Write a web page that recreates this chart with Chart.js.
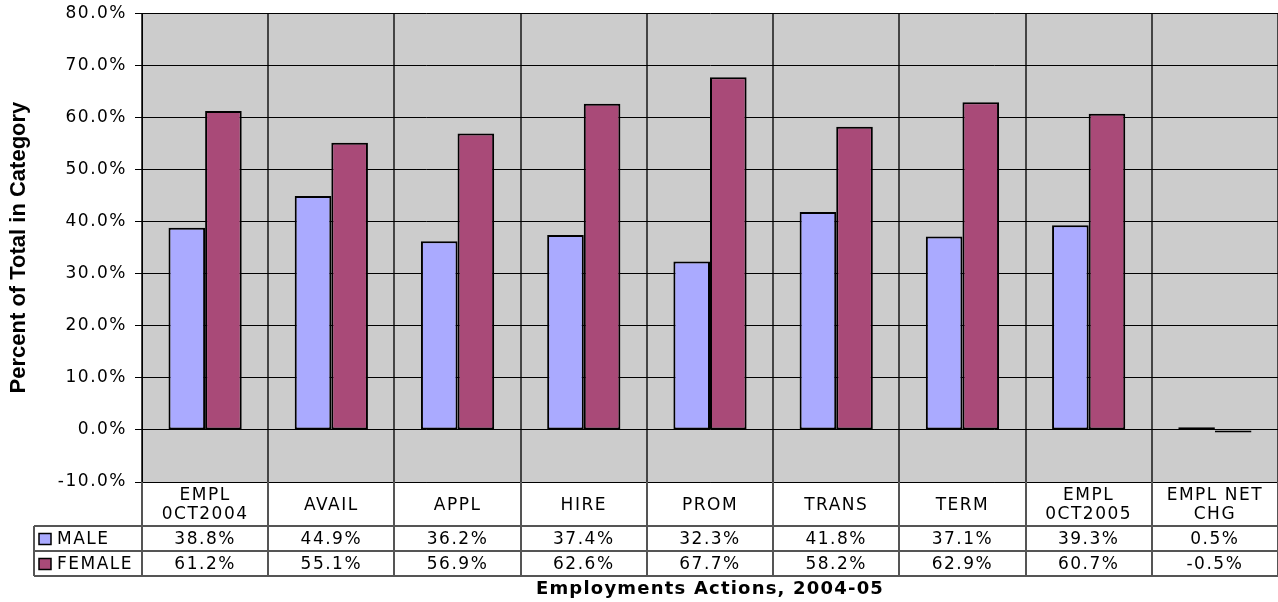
<!doctype html>
<html>
<head>
<meta charset="utf-8">
<title>Employments Actions, 2004-05</title>
<style>
  html, body { margin: 0; padding: 0; background: #fff; }
  canvas { display: block; }
</style>
</head>
<body>
<canvas id="myChart" width="1278" height="602"></canvas>
<script src="https://cdn.jsdelivr.net/npm/chart.js"></script>
<script>
// data
const categories = [['EMPL', '0CT2004'], 'AVAIL', 'APPL', 'HIRE', 'PROM', 'TRANS', 'TERM', ['EMPL', '0CT2005'], ['EMPL NET', 'CHG']];
const maleValues = [38.8, 44.9, 36.2, 37.4, 32.3, 41.8, 37.1, 39.3, 0.5];
const femaleValues = [61.2, 55.1, 56.9, 62.6, 67.7, 58.2, 62.9, 60.7, -0.5];
const seriesNames = ['MALE', 'FEMALE'];
const yMin = -10, yMax = 80, yStep = 10;
const yTitle = 'Percent of Total in Category';
const xTitle = 'Employments Actions, 2004-05';

const MALE_COLOR = '#aaaaff';
const FEMALE_COLOR = '#a94a78';
const PLOT_BG = '#cccccc';
const TABLE_LINE = '#555';
const HEADER_H = 44;
const ROW_H = 25;
const LEGEND_LEFT = 34;
const SPACING = '1.5px';

const pct = v => v.toFixed(1) + '%';

Chart.defaults.font.family = 'DejaVu Sans';
Chart.defaults.font.size = 17;
Chart.defaults.color = '#000';

// grey plot background, data table under the x axis, axis titles
const tablePlugin = {
  id: 'dataTable',
  beforeDraw(chart) {
    const {ctx, chartArea: a} = chart;
    ctx.save();
    ctx.fillStyle = PLOT_BG;
    ctx.fillRect(a.left, a.top, a.right - a.left, a.bottom - a.top);
    ctx.restore();
    ctx.letterSpacing = SPACING;
  },
  afterDraw(chart) {
    const {ctx, chartArea: a} = chart;
    const x = chart.scales.x;
    const n = chart.data.labels.length;
    const half = (x.getPixelForValue(1) - x.getPixelForValue(0)) / 2;
    const rows = chart.data.datasets;
    const top = a.bottom + HEADER_H;
    const bottom = top + rows.length * ROW_H;

    ctx.save();
    ctx.strokeStyle = TABLE_LINE;
    ctx.lineWidth = 2;
    ctx.beginPath();
    for (let i = 0; i <= n; i++) {
      const px = Math.round(x.getPixelForValue(i) - half);
      ctx.moveTo(px, a.bottom);
      ctx.lineTo(px, bottom);
    }
    ctx.moveTo(LEGEND_LEFT, top);
    ctx.lineTo(LEGEND_LEFT, bottom);
    for (let r = 0; r <= rows.length; r++) {
      const py = top + r * ROW_H;
      ctx.moveTo(LEGEND_LEFT, py);
      ctx.lineTo(a.right, py);
    }
    ctx.stroke();

    ctx.font = '17px "DejaVu Sans"';
    ctx.letterSpacing = SPACING;
    ctx.fillStyle = '#000';
    ctx.textBaseline = 'middle';
    rows.forEach((ds, r) => {
      const cy = top + r * ROW_H + ROW_H / 2 + 1;
      ctx.textAlign = 'center';
      ds.data.forEach((v, i) => {
        ctx.fillText(pct(v), x.getPixelForValue(i), cy);
      });
      // legend key
      ctx.fillStyle = ds.backgroundColor;
      ctx.fillRect(LEGEND_LEFT + 5, cy - 6, 12, 11);
      ctx.strokeStyle = '#000';
      ctx.lineWidth = 1.5;
      ctx.strokeRect(LEGEND_LEFT + 5, cy - 6, 12, 11);
      ctx.fillStyle = '#000';
      ctx.textAlign = 'left';
      ctx.fillText(ds.label, LEGEND_LEFT + 23, cy);
    });

    // axis titles
    ctx.font = 'bold 18px "DejaVu Sans"';
    ctx.letterSpacing = '1.2px';
    ctx.textAlign = 'center';
    ctx.fillText(xTitle, (a.left + a.right) / 2, 589);

    ctx.translate(19, (a.top + a.bottom) / 2);
    ctx.rotate(-Math.PI / 2);
    ctx.font = 'bold 22px "Liberation Sans"';
    ctx.letterSpacing = '0px';
    ctx.fillText(yTitle, 0, 0);
    ctx.restore();
  }
};

const ctx = document.getElementById('myChart');
const chart = new Chart(ctx, {
  type: 'bar',
  data: {
    labels: categories,
    datasets: [{
      label: seriesNames[0],
      data: maleValues,
      backgroundColor: MALE_COLOR,
      borderColor: '#000',
      borderWidth: 2,
      borderSkipped: false
    }, {
      label: seriesNames[1],
      data: femaleValues,
      backgroundColor: FEMALE_COLOR,
      borderColor: '#000',
      borderWidth: 2,
      borderSkipped: false
    }]
  },
  options: {
    responsive: false,
    animation: false,
    layout: { padding: 0 },
    datasets: {
      bar: { categoryPercentage: 0.58, barPercentage: 1.0 }
    },
    plugins: {
      legend: { display: false },
      tooltip: { enabled: false }
    },
    scales: {
      x: {
        afterFit(scale) { scale.height = 120; },
        grid: { offset: true, color: '#444', lineWidth: 2, drawTicks: false },
        border: { display: true, color: '#000', width: 1 },
        ticks: { padding: 14, crossAlign: 'center', maxRotation: 0, autoSkip: false,
                 font: { size: 17, lineHeight: 1.1 } }
      },
      y: {
        min: yMin,
        max: yMax,
        afterFit(scale) { scale.width = 142; },
        grid: { color: '#000', lineWidth: 1, tickLength: 7, tickColor: '#000' },
        border: { display: true, color: '#000', width: 1 },
        // small lineHeight keeps the top label from pushing the plot down
        ticks: { stepSize: yStep, padding: 8, callback: v => pct(v), font: { size: 17, lineHeight: 0.6 } }
      }
    }
  },
  plugins: [tablePlugin]
});
</script>
</body>
</html>
